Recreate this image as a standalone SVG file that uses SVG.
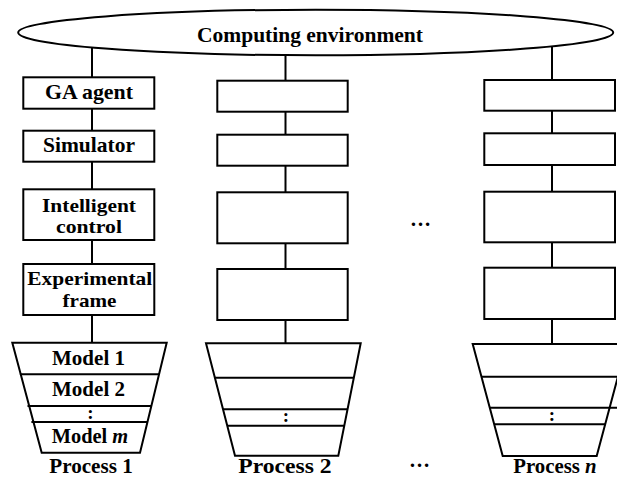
<svg xmlns="http://www.w3.org/2000/svg" width="617" height="477" viewBox="0 0 617 477">
  <style>
    .shape { fill: #ffffff; stroke: #000000; stroke-width: 2; }
    .link { stroke: #000000; stroke-width: 2; fill: none; }
    .sep { stroke: #000000; stroke-width: 2; }
    .lbl { font-family: "Liberation Serif", "Times New Roman", serif; font-weight: bold; font-size: 21px; fill: #000000; text-anchor: middle; }
    .big { font-size: 22px; }
    .two { font-size: 19px; }
    .dot { font-size: 19px; }
    .it { font-style: italic; }
  </style>
  <rect width="617" height="477" fill="#ffffff"/>

  <!-- vertical connectors of each process column -->
  <g id="connectors">
    <line class="link" x1="92" y1="40" x2="92" y2="343"/>
    <line class="link" x1="285.5" y1="40" x2="285.5" y2="344"/>
    <line class="link" x1="552" y1="40" x2="552" y2="344"/>
  </g>

  <g id="env">
    <ellipse class="shape" cx="315.7" cy="32.5" rx="297.5" ry="22.8"/>
    <text class="lbl big" x="310" y="41.5" textLength="226" lengthAdjust="spacingAndGlyphs">Computing environment</text>
  </g>

  <!-- Process 1 -->
  <g id="p1-ga">
    <rect class="shape" x="23.3" y="77.3" width="131" height="31.4"/>
    <text class="lbl" x="89" y="98.5" textLength="88" lengthAdjust="spacingAndGlyphs">GA agent</text>
  </g>
  <g id="p1-sim">
    <rect class="shape" x="23.3" y="130.7" width="131" height="31"/>
    <text class="lbl" x="89" y="152" textLength="92" lengthAdjust="spacingAndGlyphs">Simulator</text>
  </g>
  <g id="p1-ic">
    <rect class="shape" x="23.3" y="189.3" width="131" height="50.7"/>
    <text class="lbl two" x="89" y="211.5" textLength="94" lengthAdjust="spacingAndGlyphs">Intelligent</text>
    <text class="lbl two" x="89" y="233" textLength="66" lengthAdjust="spacingAndGlyphs">control</text>
  </g>
  <g id="p1-ef">
    <rect class="shape" x="23.3" y="264" width="131" height="51"/>
    <text class="lbl two" x="89.8" y="285.3" textLength="125" lengthAdjust="spacingAndGlyphs">Experimental</text>
    <text class="lbl two" x="89.5" y="307.2" textLength="54" lengthAdjust="spacingAndGlyphs">frame</text>
  </g>
  <g id="p1-models">
    <polygon class="shape" points="12.3,342.7 166.7,342.7 140,452.7 41.7,452.7"/>
    <line class="sep" x1="19.9" y1="374.3" x2="159" y2="374.3"/>
    <line class="sep" x1="27.5" y1="406" x2="151.3" y2="406"/>
    <line class="sep" x1="31.4" y1="422" x2="147.4" y2="422"/>
    <text class="lbl" x="88.5" y="365" textLength="73" lengthAdjust="spacingAndGlyphs">Model 1</text>
    <text class="lbl" x="88.5" y="396" textLength="73" lengthAdjust="spacingAndGlyphs">Model 2</text>
    <text class="lbl dot" x="90.5" y="418.5">:</text>
    <text class="lbl" x="90" y="443" textLength="76.5" lengthAdjust="spacingAndGlyphs">Model <tspan class="it">m</tspan></text>
  </g>
  <text id="p1-label" class="lbl" x="91" y="472.5" textLength="83.5" lengthAdjust="spacingAndGlyphs">Process 1</text>

  <!-- Process 2 -->
  <g id="p2-a"><rect class="shape" x="217.3" y="80.7" width="130.4" height="31"/></g>
  <g id="p2-b"><rect class="shape" x="217.3" y="134.7" width="130.4" height="31"/></g>
  <g id="p2-c"><rect class="shape" x="217.3" y="192.3" width="130.4" height="51"/></g>
  <g id="p2-d"><rect class="shape" x="217.3" y="269" width="130.4" height="51"/></g>
  <g id="p2-models">
    <polygon class="shape" points="206,343.3 360.7,343.3 338.3,455.7 235,455.7"/>
    <line class="sep" x1="214.9" y1="377.7" x2="353.8" y2="377.7"/>
    <line class="sep" x1="223" y1="409.3" x2="347.5" y2="409.3"/>
    <line class="sep" x1="227.3" y1="425.7" x2="344.3" y2="425.7"/>
    <text class="lbl dot" x="286" y="422">:</text>
  </g>
  <text id="p2-label" class="lbl" x="285" y="472.5" textLength="93.4" lengthAdjust="spacingAndGlyphs">Process 2</text>

  <!-- Process n -->
  <g id="pn-a"><rect class="shape" x="484.3" y="80" width="130.7" height="30.7"/></g>
  <g id="pn-b"><rect class="shape" x="484.3" y="133.3" width="130.7" height="31.7"/></g>
  <g id="pn-c"><rect class="shape" x="484.3" y="191.7" width="130.7" height="50.6"/></g>
  <g id="pn-d"><rect class="shape" x="484.3" y="267.7" width="130.7" height="51.3"/></g>
  <g id="pn-models">
    <polygon class="shape" points="472.7,344 626.7,344 596.7,456 502.7,456"/>
    <line class="sep" x1="481.3" y1="376.7" x2="618" y2="376.7"/>
    <line class="sep" x1="489.6" y1="407.7" x2="618" y2="407.7"/>
    <line class="sep" x1="494.1" y1="424.3" x2="605.3" y2="424.3"/>
    <text class="lbl dot" x="552" y="420.5">:</text>
  </g>
  <text id="pn-label" class="lbl" x="555" y="472.5" textLength="83.4" lengthAdjust="spacingAndGlyphs">Process <tspan class="it">n</tspan></text>

  <!-- ellipses between columns -->
  <text class="lbl" x="420.5" y="226">…</text>
  <text class="lbl" x="419.5" y="467">…</text>
</svg>
